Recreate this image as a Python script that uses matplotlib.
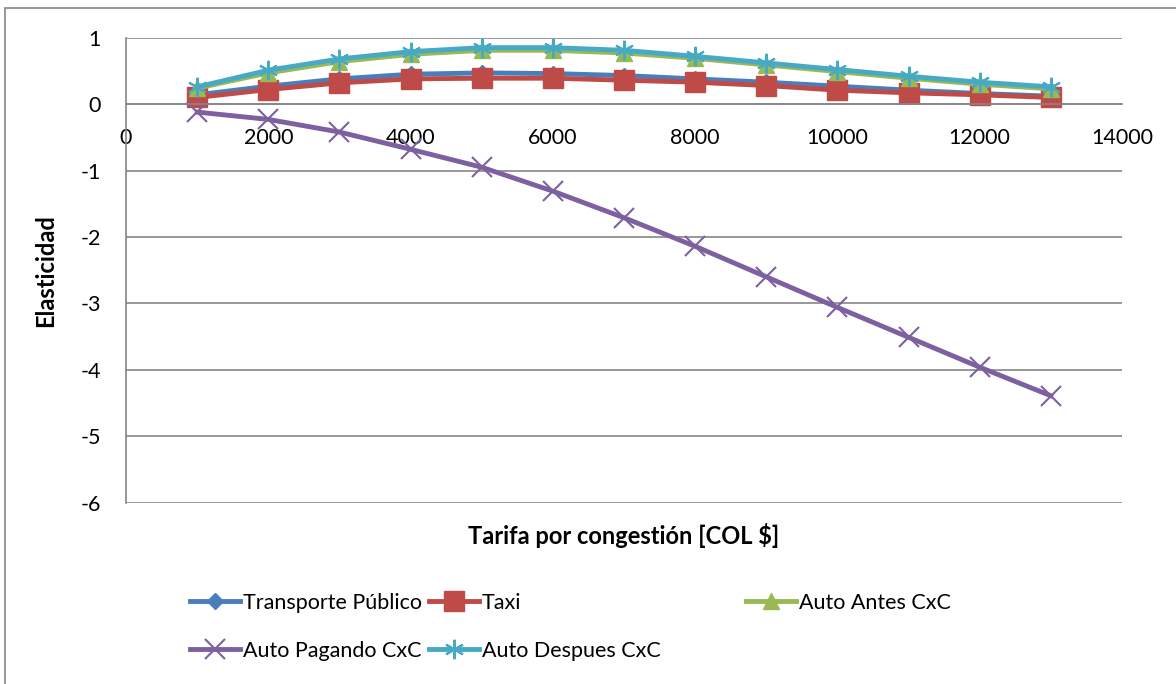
import numpy as np
import matplotlib
matplotlib.use('Agg')
import matplotlib.pyplot as plt
from matplotlib.patches import Rectangle

plt.rcParams['font.family'] = ['Lato', 'DejaVu Sans']

# tarifa por congestion [COL $]
tarifa = [1000, 2000, 3000, 4000, 5000, 6000, 7000, 8000, 9000, 10000, 11000, 12000, 13000]

transporte_publico = [0.14, 0.27, 0.38, 0.45, 0.47, 0.46, 0.43, 0.38, 0.33, 0.27, 0.21, 0.16, 0.12]
taxi = [0.10, 0.22, 0.32, 0.38, 0.39, 0.39, 0.36, 0.33, 0.28, 0.21, 0.17, 0.14, 0.10]
auto_antes = [0.24, 0.47, 0.64, 0.75, 0.81, 0.81, 0.77, 0.69, 0.59, 0.49, 0.39, 0.30, 0.23]
auto_pagando = [-0.12, -0.23, -0.42, -0.68, -0.95, -1.31, -1.71, -2.14, -2.60, -3.06, -3.51, -3.96, -4.39]
auto_despues = [0.26, 0.51, 0.68, 0.79, 0.85, 0.85, 0.81, 0.72, 0.62, 0.52, 0.42, 0.33, 0.26]

xticks = [0, 2000, 4000, 6000, 8000, 10000, 12000, 14000]
yticks = [1, 0, -1, -2, -3, -4, -5, -6]

fig = plt.figure(figsize=(11.76, 6.84), dpi=100)
ax = fig.add_axes([126 / 1176, 1 - 502.7 / 684, (1122 - 126) / 1176, (502.7 - 37.7) / 684])

# borde del area del grafico
fig.patches.append(Rectangle((5 / 1176, -0.1), 1.2, 1.1 - 8 / 684, transform=fig.transFigure,
                             fill=False, edgecolor='#868686', linewidth=1.2))

lw = 3.5
h_tp, = ax.plot(tarifa, transporte_publico, color='#4A7EBB', lw=lw, marker='D', ms=8,
                label='Transporte Público')
h_taxi, = ax.plot(tarifa, taxi, color='#BE4B48', lw=lw, marker='s', ms=14, label='Taxi')
h_antes, = ax.plot(tarifa, auto_antes, color='#98B954', lw=lw, marker='^', ms=12,
                   label='Auto Antes CxC')
h_pag, = ax.plot(tarifa, auto_pagando, color='#7D60A0', lw=lw, marker='x', ms=14, mew=1.5,
                 label='Auto Pagando CxC')
h_desp, = ax.plot(tarifa, auto_despues, color='#46AAC5', lw=lw, marker=(6, 2, 0), ms=14, mew=1.5,
                  label='Auto Despues CxC')

ax.set_xlim(0, 14000)
ax.set_ylim(-6, 1)
ax.set_xticks(xticks)
ax.set_yticks(yticks)
ax.set_yticklabels([str(v) for v in yticks])
ax.grid(axis='y', color='#868686', linewidth=1.2)
ax.set_axisbelow(True)

for s in ['top', 'right']:
    ax.spines[s].set_visible(False)
ax.spines['bottom'].set_position(('data', 0))
ax.spines['bottom'].set_color('#868686')
ax.spines['left'].set_color('#868686')
ax.spines['bottom'].set_linewidth(1.2)
ax.spines['left'].set_linewidth(1.2)
ax.tick_params(axis='x', length=0, pad=17, labelsize=15.5)
ax.tick_params(axis='y', length=0, pad=18, labelsize=15.5)

ax.set_xlabel('Tarifa por congestión [COL $]', fontsize=17, fontweight='bold')
ax.xaxis.set_label_coords(0.5, -0.043)
ax.set_ylabel('Elasticidad', fontsize=17, fontweight='bold')
ax.yaxis.set_label_coords(-0.069, 0.5)

# leyenda como en Excel: dos columnas y una tercera aparte
leg_kw = dict(loc='upper left', frameon=False, fontsize=15.5, handlelength=2.3,
              handletextpad=0.15, columnspacing=0.35, labelspacing=1.3, borderaxespad=0,
              borderpad=0)
handles = [h_tp, h_pag, h_taxi, h_desp]
fig.legend(handles=handles, labels=[h.get_label() for h in handles], ncol=2,
           bbox_to_anchor=(190 / 1176, 1 - 593 / 684), **leg_kw)
fig.legend(handles=[h_antes], labels=[h_antes.get_label()], ncol=1,
           bbox_to_anchor=(746 / 1176, 1 - 593 / 684), **leg_kw)

fig.savefig('out.png', dpi=100)
